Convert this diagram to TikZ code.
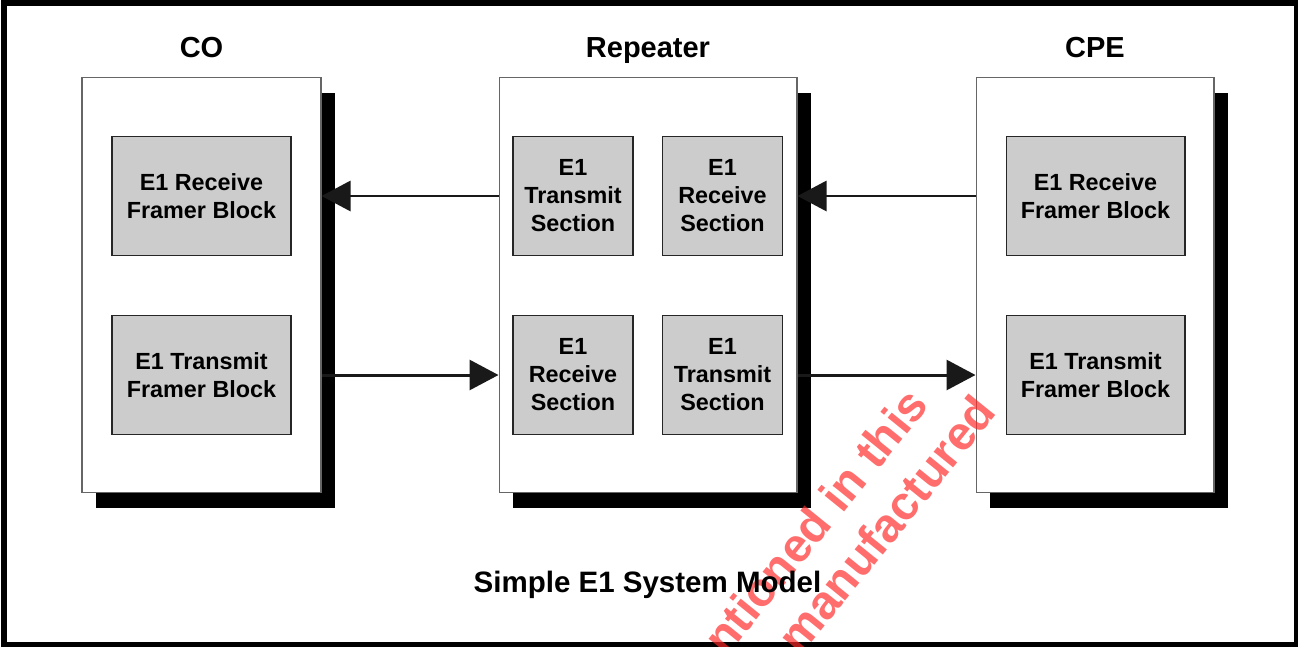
\documentclass[tikz,border=0pt]{standalone}
\usepackage{fontspec}
\setmainfont{Liberation Sans}
\usetikzlibrary{arrows.meta,shadows}
\definecolor{wmred}{RGB}{255,40,40}
\begin{document}
\begin{tikzpicture}[x=0.02cm, y=-0.02cm,
  unit/.style={draw=black!60, fill=white, line width=0.6pt, minimum height=8.32cm,
    drop shadow={fill=black, opacity=1, shadow xshift=0.28cm, shadow yshift=-0.31cm}},
  blk/.style={draw=black!85, fill=black!20, line width=0.6pt, align=center, inner sep=0pt,
    minimum height=2.38cm, font=\bfseries\fontsize{13.3}{15.9}\selectfont},
  wide/.style={blk, minimum width=3.58cm},
  narrow/.style={blk, minimum width=2.4cm},
  ttl/.style={anchor=base, font=\bfseries\fontsize{16.5}{20}\selectfont},
  sig/.style={line width=1.7pt, draw=black!90, -{Triangle[length=0.58cm, width=0.6cm, fill=black!90]}},
  wm/.style={anchor=base east, rotate=51, text=wmred, opacity=0.68, font=\bfseries\fontsize{27}{30}\selectfont}]
  \useasboundingbox (0,0) rectangle (1298,646);
  % marco
  \draw[line width=3.5pt] (4,3) rectangle (1297,645);
  % CO
  \node[unit, minimum width=4.78cm] (co) at (201.5,285) {};
  \node[ttl] (coname) at (201.5,57) {CO};
  \node[wide] (corx) at (201.5,196) {E1 Receive\\Framer Block};
  \node[wide] (cotx) at (201.5,375) {E1 Transmit\\Framer Block};
  % repetidor
  \node[unit, minimum width=5.96cm] (rep) at (648,285) {};
  \node[ttl] (repname) at (648,57) {Repeater};
  \node[narrow] (reptxa) at (573,196) {E1\\Transmit\\Section};
  \node[narrow] (reprxa) at (722.5,196) {E1\\Receive\\Section};
  \node[narrow] (reprxb) at (573,375) {E1\\Receive\\Section};
  \node[narrow] (reptxb) at (722.5,375) {E1\\Transmit\\Section};
  % CPE
  \node[unit, minimum width=4.76cm] (cpe) at (1095,285) {};
  \node[ttl] (cpename) at (1095,57) {CPE};
  \node[wide] (cperx) at (1095.5,196) {E1 Receive\\Framer Block};
  \node[wide] (cpetx) at (1095.5,375) {E1 Transmit\\Framer Block};
  % marca de agua
  \node[wm] (wma) at (934,401) {ntioned in this};
  \node[wm] (wmb) at (1002,408) {manufactured};
  % enlaces
  \draw[sig] (rep.west |- corx) -- (co.east |- corx);
  \draw[sig] (cpe.west |- corx) -- (rep.east |- corx);
  \draw[sig] (co.east |- cotx) -- (rep.west |- cotx);
  \draw[sig] (rep.east |- cotx) -- (cpe.west |- cotx);
  % pie
  \node[ttl, font=\bfseries\fontsize{16.8}{20}\selectfont] (cap) at (647.5,592) {Simple E1 System Model};
\end{tikzpicture}
\end{document}
